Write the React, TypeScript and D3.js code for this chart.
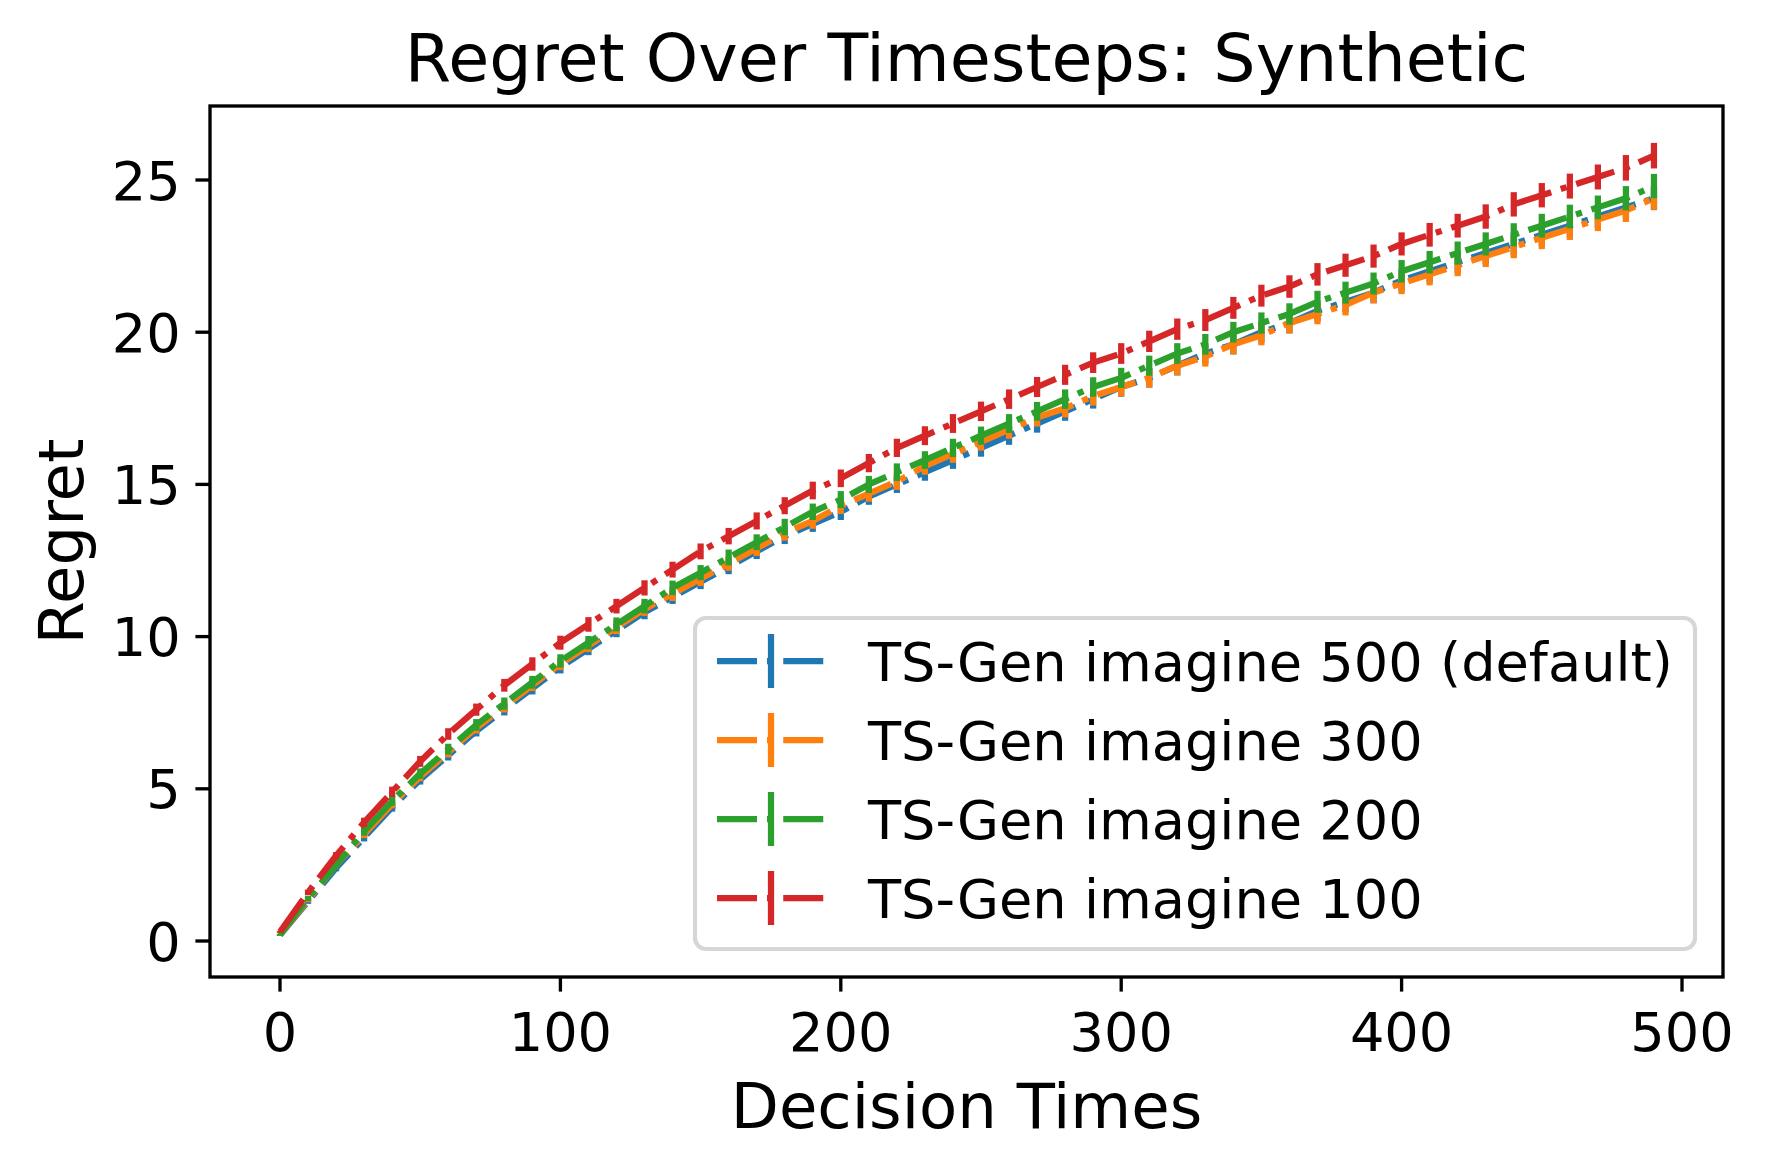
import * as d3 from 'd3';
import React from 'react';

// decision times (x) shared by every series
const times = [0, 10, 20, 30, 40, 50, 60, 70, 80, 90, 100, 110, 120, 130, 140, 150, 160, 170, 180, 190,
  200, 210, 220, 230, 240, 250, 260, 270, 280, 290, 300, 310, 320, 330, 340, 350, 360, 370, 380, 390,
  400, 410, 420, 430, 440, 450, 460, 470, 480, 490];

const imagine500 = [0.2, 1.3, 2.4, 3.4, 4.4, 5.3, 6.1, 6.9, 7.6, 8.3, 9.0, 9.6, 10.2, 10.8, 11.3, 11.8, 12.3, 12.8, 13.3, 13.7,
  14.1, 14.6, 15.0, 15.4, 15.8, 16.2, 16.6, 17.0, 17.4, 17.8, 18.2, 18.5, 18.9, 19.3, 19.6, 20.0, 20.3, 20.7, 21.0, 21.3,
  21.7, 22.0, 22.3, 22.6, 22.9, 23.2, 23.5, 23.8, 24.1, 24.4];
const imagine300 = [0.2, 1.35, 2.5, 3.5, 4.5, 5.4, 6.2, 7.0, 7.7, 8.4, 9.1, 9.7, 10.3, 10.9, 11.4, 11.9, 12.4, 12.9, 13.4, 13.8,
  14.3, 14.7, 15.1, 15.6, 16.0, 16.4, 16.8, 17.2, 17.5, 17.9, 18.2, 18.5, 18.9, 19.2, 19.6, 19.9, 20.3, 20.6, 20.9, 21.3,
  21.6, 21.9, 22.2, 22.5, 22.8, 23.1, 23.4, 23.7, 24.0, 24.4];
const imagine200 = [0.2, 1.4, 2.5, 3.6, 4.6, 5.5, 6.3, 7.1, 7.8, 8.5, 9.2, 9.8, 10.4, 11.0, 11.6, 12.1, 12.6, 13.1, 13.6, 14.1,
  14.5, 15.0, 15.4, 15.8, 16.2, 16.6, 17.0, 17.4, 17.8, 18.2, 18.5, 18.9, 19.3, 19.6, 20.0, 20.3, 20.6, 21.0, 21.3, 21.6,
  22.0, 22.3, 22.6, 22.9, 23.2, 23.5, 23.8, 24.1, 24.4, 24.8];
const imagine100 = [0.3, 1.6, 2.8, 3.9, 4.9, 5.9, 6.8, 7.6, 8.4, 9.1, 9.8, 10.4, 11.0, 11.6, 12.2, 12.8, 13.3, 13.8, 14.3, 14.8,
  15.2, 15.7, 16.2, 16.6, 17.0, 17.4, 17.8, 18.2, 18.6, 19.0, 19.3, 19.7, 20.1, 20.4, 20.8, 21.2, 21.5, 21.9, 22.2, 22.5,
  22.9, 23.2, 23.5, 23.8, 24.2, 24.5, 24.8, 25.1, 25.4, 25.8];

// standard errors
const err500 = [0.02, 0.08, 0.11, 0.13, 0.15, 0.16, 0.17, 0.18, 0.19, 0.20, 0.21, 0.21, 0.22, 0.23, 0.23, 0.24, 0.25, 0.25, 0.26, 0.26,
  0.27, 0.27, 0.28, 0.28, 0.29, 0.29, 0.30, 0.30, 0.31, 0.31, 0.32, 0.32, 0.32, 0.33, 0.33, 0.34, 0.34, 0.34, 0.35, 0.35,
  0.36, 0.36, 0.36, 0.37, 0.37, 0.37, 0.38, 0.38, 0.38, 0.39];
const err300 = [0.02, 0.08, 0.10, 0.12, 0.14, 0.15, 0.17, 0.18, 0.19, 0.19, 0.20, 0.21, 0.22, 0.22, 0.23, 0.24, 0.24, 0.25, 0.25, 0.26,
  0.27, 0.27, 0.28, 0.28, 0.29, 0.29, 0.30, 0.30, 0.30, 0.31, 0.31, 0.32, 0.32, 0.33, 0.33, 0.33, 0.34, 0.34, 0.35, 0.35,
  0.35, 0.36, 0.36, 0.36, 0.37, 0.37, 0.37, 0.38, 0.38, 0.38];
const err200 = [0.03, 0.09, 0.12, 0.14, 0.16, 0.17, 0.18, 0.19, 0.20, 0.21, 0.22, 0.22, 0.23, 0.24, 0.24, 0.25, 0.26, 0.26, 0.27, 0.27,
  0.28, 0.28, 0.29, 0.29, 0.30, 0.30, 0.31, 0.31, 0.32, 0.32, 0.33, 0.33, 0.34, 0.34, 0.34, 0.35, 0.35, 0.36, 0.36, 0.36,
  0.37, 0.37, 0.38, 0.38, 0.38, 0.39, 0.39, 0.39, 0.40, 0.40];
const err100 = [0.03, 0.09, 0.12, 0.15, 0.17, 0.18, 0.19, 0.20, 0.21, 0.22, 0.23, 0.24, 0.24, 0.25, 0.26, 0.26, 0.27, 0.28, 0.28, 0.29,
  0.29, 0.30, 0.30, 0.31, 0.31, 0.32, 0.32, 0.33, 0.33, 0.34, 0.34, 0.35, 0.35, 0.36, 0.36, 0.36, 0.37, 0.37, 0.38, 0.38,
  0.38, 0.39, 0.39, 0.40, 0.40, 0.40, 0.41, 0.41, 0.42, 0.42];

const seriesNames = ['TS-Gen imagine 500 (default)', 'TS-Gen imagine 300', 'TS-Gen imagine 200', 'TS-Gen imagine 100'];
const seriesValues = [imagine500, imagine300, imagine200, imagine100];
const seriesErrors = [err500, err300, err200, err100];
const colors = ['#1f77b4', '#ff7f0e', '#2ca02c', '#d62728'];

const xTicks = [0, 100, 200, 300, 400, 500];
const yTicks = [0, 5, 10, 15, 20, 25];

const W = 1766;
const H = 1170;
const frame = { left: 210, right: 1723, top: 106, bottom: 977 };
const font = 'DejaVu Sans, sans-serif';

const App: React.FC = () => {
  const x = d3.scaleLinear().domain([0, 500]).range([280, 1682]);
  const y = d3.scaleLinear().domain([0, 25]).range([941, 180]);

  const line = d3.line<number>()
    .x((_, i) => x(times[i]))
    .y(d => y(d));

  const lw = 6.25;
  const dash = '40 10 6.25 10';
  const tickLen = 14.6;

  const legend = { x: 695, y: 618, w: 1000, h: 331 };
  const rowY = [661, 740, 819, 898];

  return (
    <svg width={W} height={H} style={{ position: 'absolute', left: 0, top: 0, background: '#fff' }}
      fontFamily={font}>
      <rect x={0} y={0} width={W} height={H} fill="#fff" />

      {/* series: errorbars + dash-dot lines */}
      {seriesValues.map((vals, s) => (
        <g key={seriesNames[s]}>
          <path d={line(vals) || ''} fill="none" stroke={colors[s]} strokeWidth={lw}
            strokeDasharray={dash} strokeLinejoin="round" />
          {vals.map((v, i) => (
            <line key={i} x1={x(times[i])} x2={x(times[i])}
              y1={y(v - seriesErrors[s][i])} y2={y(v + seriesErrors[s][i])}
              stroke={colors[s]} strokeWidth={lw} />
          ))}
        </g>
      ))}

      {/* frame */}
      <rect x={frame.left} y={frame.top} width={frame.right - frame.left} height={frame.bottom - frame.top}
        fill="none" stroke="#000" strokeWidth={3.33} />

      {/* x axis */}
      {xTicks.map(t => (
        <g key={t}>
          <line x1={x(t)} x2={x(t)} y1={frame.bottom} y2={frame.bottom + tickLen} stroke="#000" strokeWidth={3.33} />
          <text x={x(t)} y={1051} fontSize={54.2} textAnchor="middle">{t}</text>
        </g>
      ))}
      {/* y axis */}
      {yTicks.map(t => (
        <g key={t}>
          <line x1={frame.left - tickLen} x2={frame.left} y1={y(t)} y2={y(t)} stroke="#000" strokeWidth={3.33} />
          <text x={frame.left - 2 * tickLen} y={y(t) + 19.5} fontSize={54.2} textAnchor="end">{t}</text>
        </g>
      ))}

      <text x={(frame.left + frame.right) / 2} y={1128} fontSize={62.5} textAnchor="middle">Decision Times</text>
      <text transform={`translate(83, ${(frame.top + frame.bottom) / 2}) rotate(-90)`} fontSize={62.5}
        textAnchor="middle">Regret</text>
      <text x={(frame.left + frame.right) / 2} y={81} fontSize={66.7} textAnchor="middle">Regret Over Timesteps: Synthetic</text>

      {/* legend */}
      <rect x={legend.x} y={legend.y} width={legend.w} height={legend.h} rx={11} ry={11}
        fill="#fff" fillOpacity={0.8} stroke="#d6d6d6" strokeWidth={4.17} />
      {seriesNames.map((name, s) => (
        <g key={name}>
          <line x1={717} x2={825} y1={rowY[s]} y2={rowY[s]} stroke={colors[s]} strokeWidth={lw} strokeDasharray={dash} />
          <line x1={771} x2={771} y1={rowY[s] - 27} y2={rowY[s] + 27} stroke={colors[s]} strokeWidth={lw} />
          <text x={868} y={rowY[s] + 19.5} fontSize={54.2}>{name}</text>
        </g>
      ))}
    </svg>
  );
};

export default App;
